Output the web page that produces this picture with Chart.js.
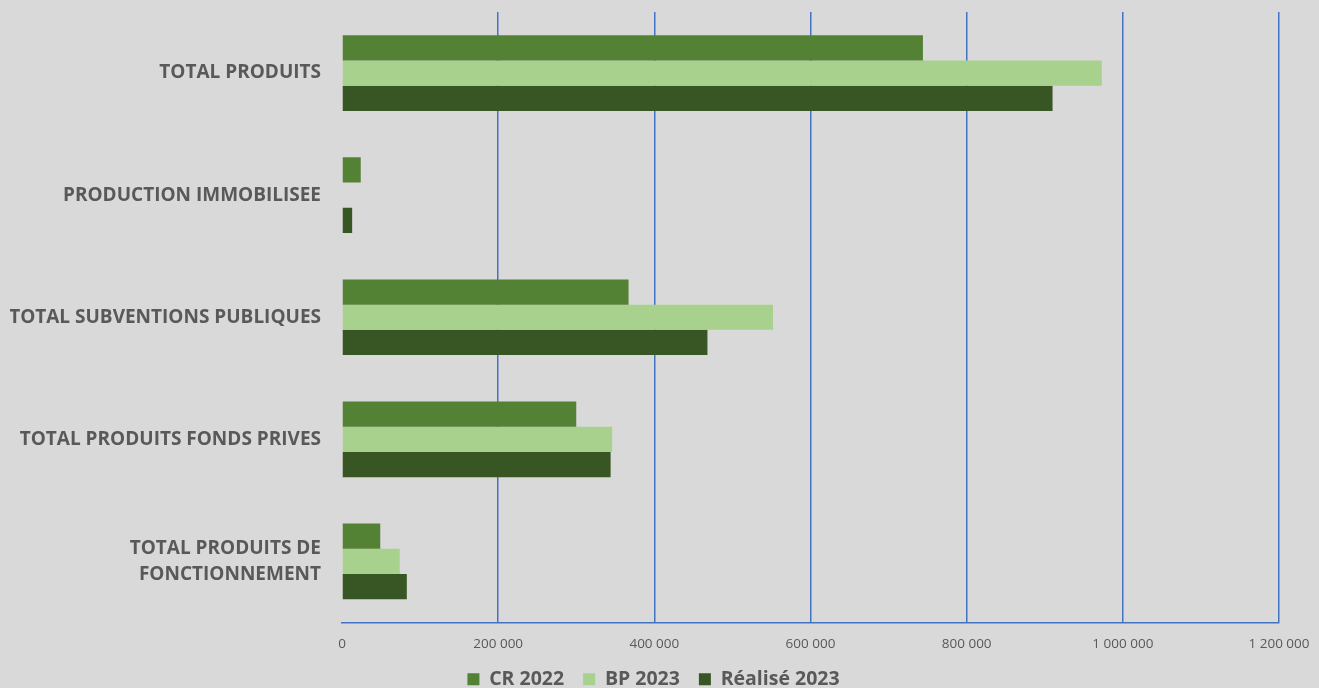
<!DOCTYPE html>
<html>
<head>
<meta charset="utf-8">
<script src="https://cdn.jsdelivr.net/npm/chart.js@4"></script>
<style>
  html, body { margin: 0; padding: 0; background: #d9d9d9; }
  #wrap { width: 1319px; height: 688px; }
</style>
</head>
<body>
<div id="wrap"><canvas id="produits-chart"></canvas></div>
<script>
// Categories (top to bottom)
const categories = [
  'TOTAL PRODUITS',
  'PRODUCTION IMMOBILISEE',
  'TOTAL SUBVENTIONS PUBLIQUES',
  'TOTAL PRODUITS FONDS PRIVES',
  ['TOTAL PRODUITS DE', 'FONCTIONNEMENT'],
];

// Series values
const cr2022 = [744000, 24000, 367000, 300000, 49000];
const bp2023 = [973000, 0, 552000, 346000, 74000];
const realise2023 = [910000, 13000, 468000, 344000, 83000];

// x axis ticks
const xMax = 1200000;
const xStep = 200000;

const produitsCanvas = document.getElementById('produits-chart');

const produitsData = {
  labels: categories,
  datasets: [
    { label: 'CR 2022', data: cr2022, backgroundColor: '#548235' },
    { label: 'BP 2023', data: bp2023, backgroundColor: '#a9d18e' },
    { label: 'Réalisé 2023', data: realise2023, backgroundColor: '#375623' },
  ],
};

const produitsOptions = {
  indexAxis: 'y',
  responsive: true,
  maintainAspectRatio: false,
  animation: { duration: 0 },
  layout: {
    // negative bottom lets the legend sit low like the original (slightly clipped)
    padding: { left: 10, right: 22, top: 12, bottom: -11 },
  },
  datasets: {
    bar: {
      categoryPercentage: 0.62,
      barPercentage: 1.0,
      borderWidth: 0,
    },
  },
  scales: {
    x: {
      min: 0,
      max: xMax,
      ticks: {
        stepSize: xStep,
        color: '#595959',
        font: { family: 'Open Sans', size: 13.5 },
        padding: 14,
        callback: (v) => v.toLocaleString('fr-FR').replace(/\s/g, ' '),
      },
      grid: {
        color: (ctx) => (ctx.index === 0 ? 'rgba(0,0,0,0)' : '#4472c4'),
        lineWidth: 1.5,
        drawTicks: false,
      },
      border: { display: true, color: '#4472c4', width: 1.5 },
      afterFit: (scale) => {
        scale.height = 28;
        scale.paddingLeft = 0;
        scale.paddingRight = 40;
      },
    },
    y: {
      ticks: {
        color: '#595959',
        font: { family: 'Open Sans', size: 19, weight: 'bold', lineHeight: 1.35 },
        padding: 0,
      },
      // invisible tick marks give the gap between labels and plot
      grid: {
        display: true,
        drawOnChartArea: false,
        drawTicks: true,
        tickLength: 21,
        color: 'rgba(0,0,0,0)',
      },
      border: { display: false },
      afterFit: (scale) => {
        scale.width = 332;
        scale.paddingTop = 0;
        scale.paddingBottom = 0;
      },
    },
  },
  plugins: {
    legend: {
      position: 'bottom',
      labels: {
        color: '#595959',
        font: { family: 'Open Sans', size: 19.5, weight: 'bold' },
        boxWidth: 12,
        boxHeight: 12,
        padding: 19,
      },
    },
    tooltip: { enabled: false },
  },
};

let produitsChart = new Chart(produitsCanvas, {
  type: 'bar',
  data: produitsData,
  options: produitsOptions,
});
</script>
</body>
</html>
